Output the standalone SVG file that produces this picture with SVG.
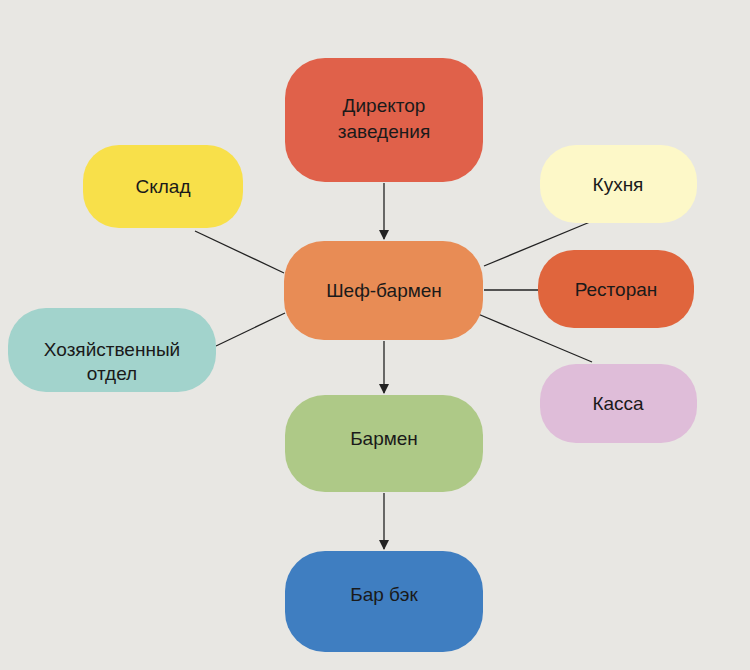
<svg xmlns="http://www.w3.org/2000/svg" width="750" height="670" viewBox="0 0 750 670">
<style>
text{font-family:"Liberation Sans",Arial,sans-serif;font-size:19px;fill:#1a1a1a;text-anchor:middle}
.c line{stroke:#222;stroke-width:1.3}
</style>
<defs><marker id="a" markerWidth="10" markerHeight="10" refX="9" refY="5" orient="auto" markerUnits="userSpaceOnUse"><path d="M0,0 L10,5 L0,10 z" fill="#222"/></marker></defs>
<rect width="750" height="670" fill="#E8E7E3"/>
<g class="c">
<line x1="384" y1="183" x2="384" y2="239" marker-end="url(#a)"/>
<line x1="384" y1="341" x2="384" y2="393" marker-end="url(#a)"/>
<line x1="384" y1="493" x2="384" y2="549" marker-end="url(#a)"/>
<line x1="195" y1="231" x2="284" y2="273"/>
<line x1="484" y1="266" x2="590" y2="222"/>
<line x1="484" y1="290" x2="538" y2="290"/>
<line x1="478" y1="314" x2="592" y2="362"/>
<line x1="216" y1="346" x2="285" y2="313"/>
</g>
<g id="director"><rect x="285" y="58" width="198" height="124" rx="40" fill="#E0614A"/><text x="384" y="112">Директор</text><text x="384" y="138">заведения</text></g>
<g id="sklad"><rect x="83" y="145" width="160" height="83" rx="36" fill="#F8E04A"/><text x="163" y="193">Склад</text></g>
<g id="kuhnya"><rect x="540" y="145" width="157" height="78" rx="36" fill="#FDF8C8"/><text x="618" y="191">Кухня</text></g>
<g id="shef"><rect x="284" y="241" width="199" height="99" rx="40" fill="#E88C55"/><text x="384" y="297">Шеф-бармен</text></g>
<g id="restoran"><rect x="538" y="250" width="156" height="78" rx="36" fill="#E0653D"/><text x="616" y="296">Ресторан</text></g>
<g id="hoz"><rect x="8" y="308" width="208" height="84" rx="38" fill="#A2D3CC"/><text x="112" y="356">Хозяйственный</text><text x="112" y="380">отдел</text></g>
<g id="kassa"><rect x="540" y="364" width="157" height="79" rx="36" fill="#DFBDD9"/><text x="618" y="410">Касса</text></g>
<g id="barmen"><rect x="285" y="395" width="198" height="97" rx="40" fill="#AEC987"/><text x="384" y="445">Бармен</text></g>
<g id="barbek"><rect x="285" y="551" width="198" height="101" rx="40" fill="#3F7EC1"/><text x="384" y="601">Бар бэк</text></g>
</svg>
